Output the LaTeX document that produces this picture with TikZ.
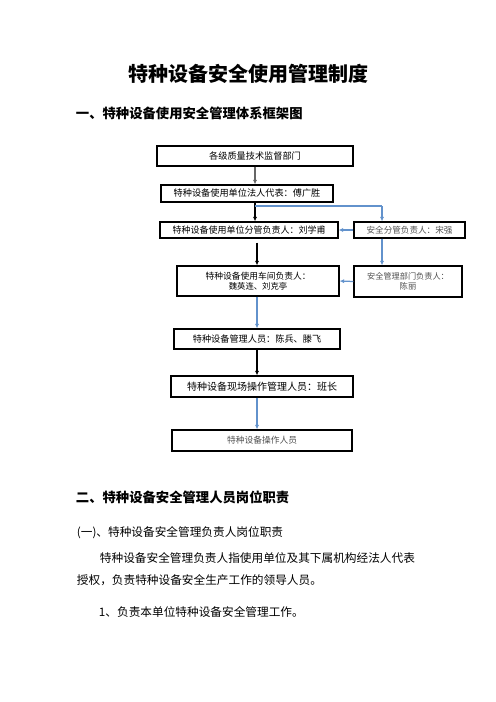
\documentclass[tikz,border=0pt]{standalone}
\usepackage{fontspec}
\setmainfont{Noto Sans CJK SC}
\usetikzlibrary{arrows.meta}
\definecolor{linkblue}{RGB}{98,146,204}
\definecolor{softgray}{RGB}{80,80,80}
\tikzset{
  box/.style 2 args={draw, line width=1.3pt, inner sep=0pt, align=center,
    minimum width=#1*1.2pt, minimum height=#2*1.2pt},
  blk/.style={line width=1.5pt, -{Latex[length=5.5pt,width=5pt]}},
  blu/.style={line width=1.5pt, linkblue, -{Latex[length=5.5pt,width=5pt]}}
}
\begin{document}
\begin{tikzpicture}[x=1.2pt, y=-1.2pt]
          \useasboundingbox (0,0) rectangle (496,702);
          % Define the font sizes for easier readability
          \def\titlefont{\fontsize{24}{28}\selectfont\bfseries}
          \def\headfont{\fontsize{16}{19}\selectfont\bfseries}
          \def\bodyfont{\fontsize{14}{17}\selectfont}

          % Title and heading
          \node (title) at (248,74) {\titlefont 特种设备安全使用管理制度};
          \node[anchor=west] (headone) at (73,113) {\headfont 一、特种设备使用安全管理体系框架图};

          % Boxes of the chart
          \node[box={196}{20}] (dept) at (255,156)
            {\fontsize{11}{13}\selectfont 各级质量技术监督部门};
          \node[box={172}{17}] (legal) at (247,193.5)
            {\fontsize{11}{13}\selectfont 特种设备使用单位法人代表：傅广胜};
          \node[box={178}{16}] (charge) at (249,230)
            {\fontsize{10.8}{13}\selectfont 特种设备使用单位分管负责人：刘学甫};
          \node[box={111}{16}, text=softgray] (safety) at (409.5,230)
            {\fontsize{10.3}{13}\selectfont 安全分管负责人：宋强};
          \node[box={162}{30}] (shop) at (258,281)
            {\fontsize{10.5}{14.5}\selectfont 特种设备使用车间负责人：\\ 魏英连、刘克亭};
          \node[box={108}{31}, text=softgray] (safedept) at (408,281.5)
            {\fontsize{9.8}{14.5}\selectfont 安全管理部门负责人：\\ 陈丽};
          \node[box={166}{20}] (keeper) at (257,339)
            {\fontsize{11}{13}\selectfont 特种设备管理人员：陈兵、滕飞};
          \node[box={182}{21}] (site) at (262,386.5)
            {\fontsize{12}{14}\selectfont 特种设备现场操作管理人员：班长};
          \node[box={180}{21}, text=softgray] (worker) at (262,440.5)
            {\fontsize{10.5}{13}\selectfont 特种设备操作人员};

          % Points where the lines turn
          \coordinate (split) at (255,206);
          \coordinate (tap) at (382,0);

          % Connectors
          \draw[blk, black!60] (dept.south) -- (dept.south |- legal.north);
          \draw[blk] (legal.south -| dept.south) -- (charge.north -| dept.south);
          \draw[blu, -] (split) -| (tap |- split);
          \draw[blu] (tap |- split) -- (safety.north -| tap);
          \draw[blu] (safety.west) -- (charge.east);
          \draw[blk] ([yshift=-5]charge.south -| keeper.north) -- (shop.north -| keeper.north);
          \draw[blu] (safety.south -| tap) -- (safedept.north -| tap);
          \draw[blu] (safedept.west) -- (shop.east);
          \draw[blu] (shop.south -| keeper.north) -- (keeper.north);
          \draw[blk] (keeper.south) -- (keeper.south |- site.north);
          \draw[blu] (site.south -| keeper.south) -- (worker.north -| keeper.south);

          % Text below the chart
          \node[anchor=west] (headtwo) at (73,497) {\headfont 二、特种设备安全管理人员岗位职责};
          \node[anchor=west] (sub) at (74,533) {\bodyfont (一)、特种设备安全管理负责人岗位职责};
          \node[anchor=west] (lineone) at (97,558) {\bodyfont 特种设备安全管理负责人指使用单位及其下属机构经法人代表};
          \node[anchor=west] (linetwo) at (74,580) {\bodyfont 授权，负责特种设备安全生产工作的领导人员。};
          \node[anchor=west] (linethree) at (96,612) {\bodyfont 1、负责本单位特种设备安全管理工作。};
        \end{tikzpicture}
\end{document}
